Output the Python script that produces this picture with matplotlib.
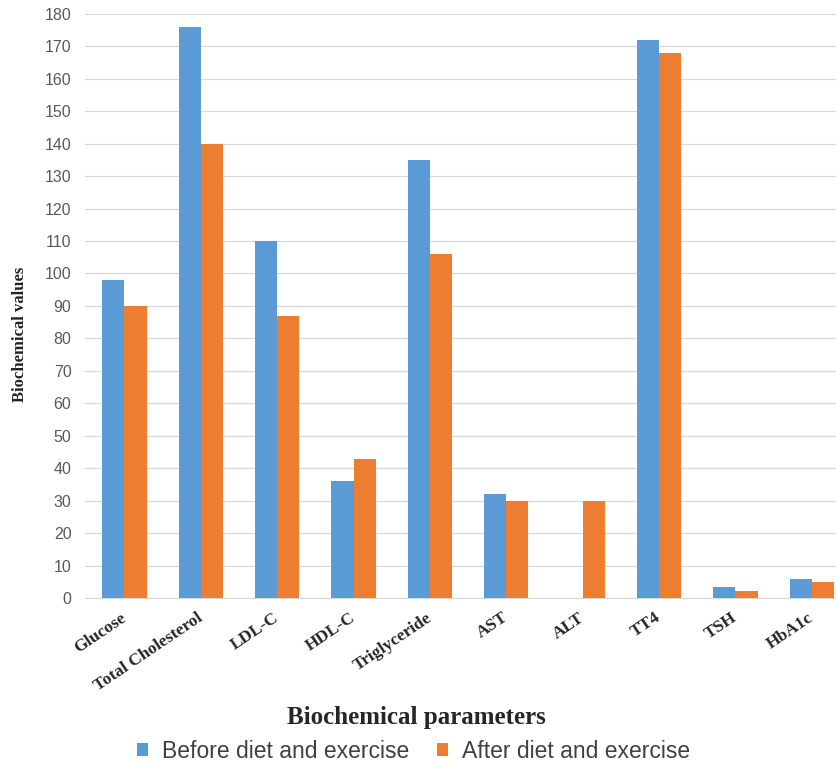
import matplotlib
matplotlib.use("Agg")
import matplotlib.pyplot as plt
import numpy as np

categories = ["Glucose", "Total Cholesterol", "LDL-C", "HDL-C", "Triglyceride",
              "AST", "ALT", "TT4", "TSH", "HbA1c"]
before = [98, 176, 110, 36, 135, 32, 0, 172, 3.5, 5.8]
after = [90, 140, 87, 43, 106, 30, 30, 168, 2.2, 5.0]
yticks = list(range(0, 181, 10))

fig = plt.figure(figsize=(8.37, 7.63), dpi=100)
ax = fig.add_axes([0.102, 0.216, 0.898, 0.766])

x = np.arange(len(categories))
w = 0.29
ax.bar(x - w / 2, before, w, color="#5B9BD5", label="Before diet and exercise", zorder=3)
ax.bar(x + w / 2, after, w, color="#ED7D31", label="After diet and exercise", zorder=3)

ax.set_xlim(-0.512, 9.33)
ax.set_ylim(0, 180)
ax.set_yticks(yticks)
ax.set_yticklabels([str(v) for v in yticks], fontsize=11.5, color="#595959",
                   family="Liberation Sans")
ax.grid(axis="y", color="#D9D9D9", linewidth=0.9, zorder=0)
for s in ["top", "right", "left"]:
    ax.spines[s].set_visible(False)
ax.spines["bottom"].set_color("#D9D9D9")
ax.tick_params(axis="both", length=0)
ax.tick_params(axis="y", pad=10)
ax.tick_params(axis="x", pad=13)

ax.set_xticks(x)
ax.set_xticklabels(categories, rotation=34, ha="right", va="center", rotation_mode="anchor",
                   family="Liberation Serif", fontweight="bold", fontsize=12.5,
                   color="#262626")

ax.set_ylabel("Biochemical values", family="Liberation Serif", fontweight="bold",
              fontsize=12, color="#222222")
ax.yaxis.set_label_coords(-0.076, 0.452)

fig.text(0.497, 0.059, "Biochemical parameters", ha="center", va="center",
         family="Liberation Serif", fontweight="bold", fontsize=18, color="#262626")

leg = fig.legend(loc="center", bbox_to_anchor=(0.494, 0.015), ncol=2, frameon=False,
                 prop={"family": "Liberation Sans", "size": 16.5},
                 handlelength=0.5, handleheight=0.5, columnspacing=1.2, handletextpad=0.6)
for t in leg.get_texts():
    t.set_color("#404040")

fig.savefig("out.png", dpi=100)
